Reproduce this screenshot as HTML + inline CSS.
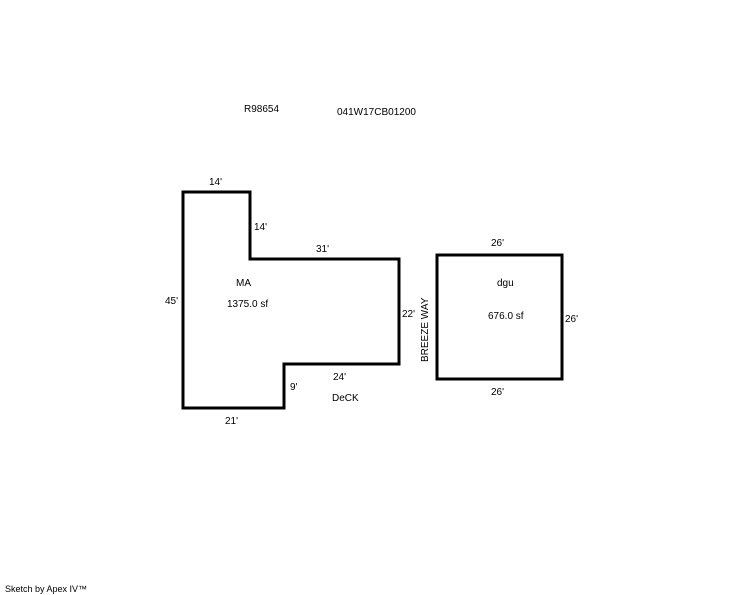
<!DOCTYPE html>
<html><head><style>html,body{margin:0;padding:0;background:#fff;}svg{display:block}</style></head>
<body>
<svg width="744" height="595" xmlns="http://www.w3.org/2000/svg" font-family="Liberation Sans, Arial, sans-serif" font-size="10" fill="#000">
<polygon points="183,192 250,192 250,259 399,259 399,364 284,364 284,408 183,408" fill="none" stroke="#000" stroke-width="3"/>
<rect x="437" y="255" width="125" height="124" fill="none" stroke="#000" stroke-width="3"/>
<text x="244" y="112">R98654</text>
<text x="337" y="115">041W17CB01200</text>
<text x="209" y="185">14'</text>
<text x="254" y="230">14'</text>
<text x="316" y="252">31'</text>
<text x="165" y="304">45'</text>
<text x="236" y="286">MA</text>
<text x="227" y="307">1375.0 sf</text>
<text x="402" y="317">22'</text>
<text x="333" y="380">24'</text>
<text x="290" y="390">9'</text>
<text x="332" y="401">DeCK</text>
<text x="225" y="424">21'</text>
<text x="491" y="246">26'</text>
<text x="497" y="286">dgu</text>
<text x="488" y="319">676.0 sf</text>
<text x="565" y="322">26'</text>
<text x="491" y="395">26'</text>
<text transform="translate(428,362) rotate(-90)">BREEZE WAY</text>
<text x="5" y="592" font-size="9">Sketch by Apex IV™</text>
</svg>
</body></html>
